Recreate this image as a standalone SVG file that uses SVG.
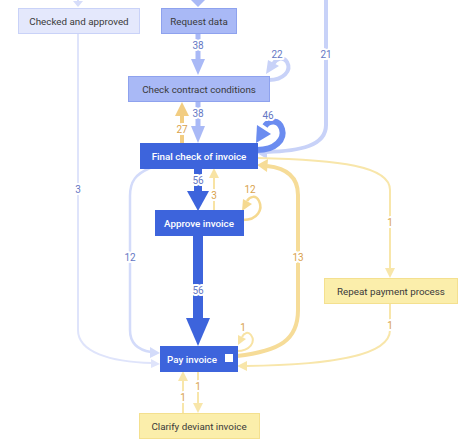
<svg xmlns="http://www.w3.org/2000/svg" width="473" height="440" viewBox="0 0 473 440">
<style>
.bg{fill:#ffffff}
.n rect{stroke-width:1}
.lt{fill:#e4e8fc;stroke:#c9d2f8}
.md{fill:#a9b9f6;stroke:#8ea2ee}
.dk{fill:#3d64dc;stroke:#3d64dc}
.yl{fill:#fbeeab;stroke:#f4e08f}
.t{font-family:Roboto,"Liberation Sans",sans-serif;font-size:9.8px;text-anchor:middle;dominant-baseline:central}
.td{fill:#3a3a3a}
.tw{fill:#ffffff;font-weight:500}
.e{fill:none;stroke-linecap:butt}
.l{font-family:Roboto,"Liberation Sans",sans-serif;font-size:10px;text-anchor:middle;dominant-baseline:central;paint-order:stroke;stroke:#ffffff;stroke-width:4px;stroke-linejoin:round}
.lb{fill:#6577c4}
.ly{fill:#d9a24c}
</style>
<rect class="bg" x="0" y="0" width="473" height="440"/>
<g id="connectors">
  <path class="e" d="M78,0 L78,3" stroke="#d6ddfa" stroke-width="2"/>
  <polygon points="73,1 83,1 78,7" fill="#d6ddfa"/>
  <path class="e" d="M198,0 L198,2" stroke="#a9b9f6" stroke-width="4"/>
  <polygon points="191,0 205,0 198,7" fill="#a9b9f6"/>
  <path class="e" d="M78,33 L78,330 C78,352 110,362 152,363" stroke="#dfe4fb" stroke-width="2"/>
  <polygon points="160,364 151,359 151,368" fill="#dfe4fb"/>
  <path class="e" d="M198,33 L198,61" stroke="#a9b9f6" stroke-width="5"/>
  <polygon points="191,59 205,59 198,75" fill="#a9b9f6"/>
  <path class="e" d="M269,80 C283,80 292,71 287,62 C283,56 277,58 273,64" stroke="#c8d2f8" stroke-width="4"/>
  <polygon points="266,74 268,60 279,66" fill="#c8d2f8"/>
  <path class="e" d="M326,0 L326,125 C326,146 300,151 266,152" stroke="#c8d2f8" stroke-width="4"/>
  <polygon points="257,153 267,146 267,159" fill="#c8d2f8"/>
  <path class="e" d="M198,101 L198,128" stroke="#a9b9f6" stroke-width="5"/>
  <polygon points="191,126 205,126 198,143" fill="#a9b9f6"/>
  <path class="e" d="M182,143 L182,114" stroke="#f2cd82" stroke-width="4"/>
  <polygon points="182,102 175,116 189,116" fill="#f2cd82"/>
  <path class="e" d="M257,150 C276,150 285,139 282,129 C279,119 269,120 265,126" stroke="#6b8cf0" stroke-width="6"/>
  <polygon points="256,143 257,125 271,134" fill="#6b8cf0"/>
  <path class="e" d="M198,168 L198,193" stroke="#3d64dc" stroke-width="8"/>
  <polygon points="187,191 209,191 198,211" fill="#3d64dc"/>
  <path class="e" d="M214,211 L214,176" stroke="#f8e3a4" stroke-width="2"/>
  <polygon points="214,168 209,178 219,178" fill="#f8e3a4"/>
  <path class="e" d="M243,220 C258,220 263,209 259,201 C256,195 250,196 247,201" stroke="#f5d990" stroke-width="2.5"/>
  <polygon points="242,211 243,199 252,204" fill="#f5d990"/>
  <path class="e" d="M150,168 C136,174 130,181 130,196 L130,330 C130,344 138,350 151,352" stroke="#d3dbfa" stroke-width="2.5"/>
  <polygon points="160,353 150,347 150,358" fill="#d3dbfa"/>
  <path class="e" d="M198,235 L198,320" stroke="#3d64dc" stroke-width="10"/>
  <polygon points="186,318 210,318 198,346" fill="#3d64dc"/>
  <path class="e" d="M237,356 C280,351 298,340 298,310 L298,195 C298,176 286,168 267,166" stroke="#f6dc98" stroke-width="4"/>
  <polygon points="257,165 268,159 267,172" fill="#f6dc98"/>
  <path class="e" d="M257,158 C340,160 390,166 390,190 L390,270" stroke="#f8e6aa" stroke-width="2"/>
  <polygon points="390,278 385,268 395,268" fill="#f8e6aa"/>
  <path class="e" d="M390,303 L390,330 C390,356 330,365 246,366" stroke="#f8e6aa" stroke-width="2"/>
  <polygon points="237,366 247,361 247,371" fill="#f8e6aa"/>
  <path class="e" d="M237,351 C250,351 256,342 251,335 C248,331 244,333 242,337" stroke="#f8e3a4" stroke-width="2"/>
  <polygon points="238,345 238,335 246,339" fill="#f8e3a4"/>
  <path class="e" d="M198,371 L198,405" stroke="#f8e6aa" stroke-width="2"/>
  <polygon points="198,413 193,403 203,403" fill="#f8e6aa"/>
  <path class="e" d="M183,413 L183,380" stroke="#f8e6aa" stroke-width="2"/>
  <polygon points="183,371 178,381 188,381" fill="#f8e6aa"/>
  <text class="l lb" x="198" y="45">38</text>
  <text class="l lb" x="277" y="54">22</text>
  <text class="l lb" x="326" y="54">21</text>
  <text class="l lb" x="198" y="113">38</text>
  <text class="l ly" x="182" y="129">27</text>
  <text class="l lb" x="268" y="115">46</text>
  <text class="l lb" x="198" y="180">56</text>
  <text class="l ly" x="214" y="195">3</text>
  <text class="l ly" x="250" y="189">12</text>
  <text class="l lb" x="78" y="189">3</text>
  <text class="l lb" x="130" y="257">12</text>
  <text class="l lb" x="198" y="290">56</text>
  <text class="l ly" x="298" y="257">13</text>
  <text class="l ly" x="390" y="222">1</text>
  <text class="l ly" x="390" y="325">1</text>
  <text class="l ly" x="243" y="327">1</text>
  <text class="l ly" x="198" y="386">1</text>
  <text class="l ly" x="183" y="397">1</text>
</g>
<g id="checked-and-approved" class="n"><rect class="lt" x="18.5" y="8.5" width="121" height="25"/><text class="t td" x="79" y="21">Checked and approved</text></g>
<g id="request-data" class="n"><rect class="md" x="161.5" y="8.5" width="75" height="25"/><text class="t td" x="199" y="21">Request data</text></g>
<g id="check-contract-conditions" class="n"><rect class="md" x="128.5" y="76.5" width="141" height="25"/><text class="t td" x="199" y="89">Check contract conditions</text></g>
<g id="final-check-of-invoice" class="n"><rect class="dk" x="140.5" y="143.5" width="117" height="25"/><text class="t tw" x="199" y="156">Final check of invoice</text></g>
<g id="approve-invoice" class="n"><rect class="dk" x="155.5" y="210.5" width="88" height="25"/><text class="t tw" x="199" y="223">Approve invoice</text></g>
<g id="pay-invoice" class="n"><rect class="dk" x="160.5" y="346.5" width="77" height="25"/><text class="t tw" x="192" y="359">Pay invoice</text><rect x="225" y="354" width="8" height="8" fill="#ffffff"/></g>
<g id="repeat-payment-process" class="n"><rect class="yl" x="324.5" y="278.5" width="133" height="25"/><text class="t td" x="391" y="291">Repeat payment process</text></g>
<g id="clarify-deviant-invoice" class="n"><rect class="yl" x="139.5" y="413.5" width="120" height="25"/><text class="t td" x="199" y="426">Clarify deviant invoice</text></g>
</svg>
